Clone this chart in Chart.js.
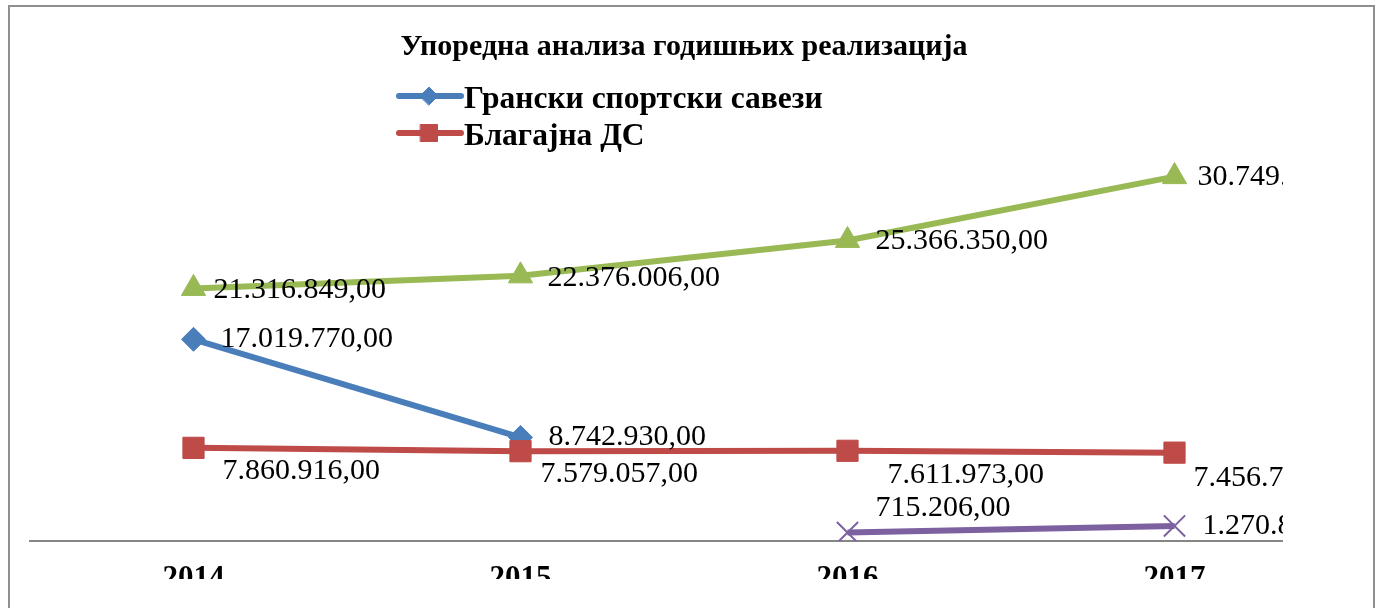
<!DOCTYPE html>
<html><head><meta charset="utf-8">
<script src="https://cdn.jsdelivr.net/npm/chart.js@4.4.1/dist/chart.umd.min.js"></script>
<style>
html,body{margin:0;padding:0;background:#fff;width:1379px;height:608px;overflow:hidden}
#frame{position:absolute;left:8px;top:5px;width:1367px;height:700px;border:2px solid #8f8f8f;box-sizing:border-box}
#clip{position:absolute;left:10px;top:7px;width:1273px;height:572px;overflow:hidden}
#c{position:absolute;left:0;top:0}
</style></head><body>
<div id="frame"></div>
<div id="clip"><canvas id="c" width="1400" height="594"></canvas></div>
<script>
const chartTitle = 'Упоредна анализа годишњих реализација';
const categories = ['2014', '2015', '2016', '2017'];
const seriesNames = ['Грански спортски савези', 'Благајна ДС', 'Серија 3', 'Серија 4'];
const granskiSavezi = [17019770.00, 8742930.00, null, null];
const blagajnaDS = [7860916.00, 7579057.00, 7611973.00, 7456710.00];
const series3 = [21316849.00, 22376006.00, 25366350.00, 30749000.00];
const series4 = [null, null, 715206.00, 1270800.00];

const colors = ['#4A7EBB', '#BE4B48', '#98B954', '#7D60A0'];
const pointStyles = ['rectRot', 'rect', 'triangle', 'crossRot'];
const pointRadii = [12, 15, 14, 15];
const legendRadii = [9, 12, 12, 12];
const drawOrder = [3, 1, 2, 0];
// label offsets (dx to text start, dy to text middle), per series / point
const labelOffsets = [
  [[27, 0], [28, 0], null, null],
  [[29, 23], [20, 23], [40, 24], [19, 25]],
  [[20, 2], [27, 2], [28, 1], [23, 1]],
  [null, null, [28, -24], [28, 0]]
];
const legendShown = [0, 1];

function fmt(v) {
  const parts = v.toFixed(2).split('.');
  return parts[0].replace(/\B(?=(\d{3})+(?!\d))/g, '.') + ',' + parts[1];
}

const allData = [granskiSavezi, blagajnaDS, series3, series4];
const datasets = allData.map((d, i) => ({
  label: seriesNames[i],
  data: d,
  borderColor: colors[i],
  backgroundColor: colors[i],
  borderWidth: 6,
  pointStyle: pointStyles[i],
  pointRadius: pointRadii[i],
  pointBackgroundColor: colors[i],
  pointBorderColor: colors[i],
  pointBorderWidth: i === 3 ? 2 : 1,
  tension: 0,
  spanGaps: false,
  order: drawOrder[i]
}));

const labelPlugin = {
  id: 'valueLabels',
  afterDatasetsDraw(chart) {
    const ctx = chart.ctx;
    ctx.save();
    ctx.font = '30px "Liberation Serif"';
    ctx.fillStyle = '#000';
    ctx.textAlign = 'left';
    ctx.textBaseline = 'middle';
    chart.data.datasets.forEach((ds, i) => {
      const meta = chart.getDatasetMeta(i);
      meta.data.forEach((pt, j) => {
        const v = ds.data[j];
        if (v === null || v === undefined) return;
        const off = labelOffsets[i][j] || [27, 0];
        ctx.fillText(fmt(v), pt.x + off[0], pt.y + off[1]);
      });
    });
    ctx.restore();
  }
};

const legendPlugin = {
  id: 'customLegend',
  afterDraw(chart) {
    const ctx = chart.ctx;
    ctx.save();
    const x0 = 389, x1 = 451, xm = 419, xt = 454;
    const rows = [89, 126];
    legendShown.forEach((i, r) => {
      const y = rows[r];
      ctx.strokeStyle = colors[i];
      ctx.lineWidth = 6;
      ctx.lineCap = 'round';
      ctx.beginPath(); ctx.moveTo(x0, y); ctx.lineTo(x1, y); ctx.stroke();
      ctx.fillStyle = colors[i];
      ctx.lineWidth = 1;
      Chart.helpers.drawPoint(ctx, {pointStyle: pointStyles[i], radius: legendRadii[i], borderWidth: 1}, xm, y);
      ctx.fillStyle = '#000';
      ctx.font = 'bold 31.5px "Liberation Serif"';
      ctx.textAlign = 'left';
      ctx.textBaseline = 'middle';
      ctx.fillText(seriesNames[i], xt, y + 4);
    });
    ctx.restore();
  }
};

new Chart(document.getElementById('c'), {
  type: 'line',
  data: { labels: categories, datasets: datasets },
  options: {
    responsive: false,
    animation: false,
    layout: { padding: { left: 20, right: 72, top: 0, bottom: 0 } },
    plugins: {
      title: {
        display: true, text: chartTitle, color: '#000',
        font: { family: 'Liberation Serif', size: 30, weight: 'bold' },
        padding: { top: 22, bottom: 2 }
      },
      legend: { display: false },
      tooltip: { enabled: false }
    },
    scales: {
      x: {
        type: 'category', offset: true,
        grid: { display: false, drawTicks: false },
        border: { display: true, color: '#868686', width: 2 },
        ticks: { color: '#000', font: { family: 'Liberation Serif', size: 31, weight: 'bold' }, padding: 19, maxRotation: 0, autoSkip: false },
        afterFit: s => { s.height = 60; }
      },
      y: { display: false, min: 0, max: 40000000 }
    }
  },
  plugins: [labelPlugin, legendPlugin]
});
</script>
</body></html>
